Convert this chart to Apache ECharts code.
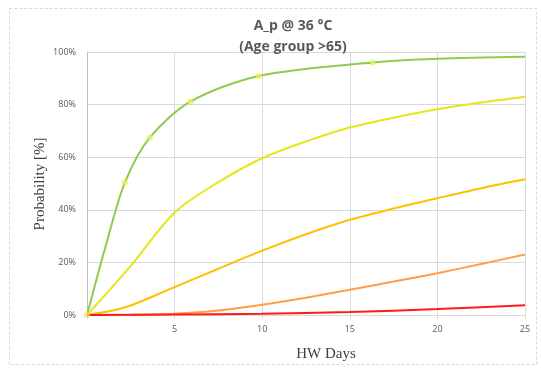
<!DOCTYPE html>
<html>
<head>
<meta charset="utf-8">
<script src="https://cdn.jsdelivr.net/npm/echarts@6/dist/echarts.min.js"></script>
<style>
  html, body { margin: 0; padding: 0; background: #ffffff; }
  #chart { width: 541px; height: 371px; }
</style>
</head>
<body>
<div id="chart"></div>
<script>
// values (x = HW days, y = probability %)
const xTicks = [0, 5, 10, 15, 20, 25];
const yTicks = [0, 20, 40, 60, 80, 100];

const greenCurve = [[0, 0], [1.1, 27], [2.17, 50.5], [3.58, 67.4], [5.9, 81.1], [9.81, 90.9], [16.3, 96.0], [20, 97.4], [25, 98.2]];
const greenMarkers = [[0, 0], [2.17, 50.5], [3.58, 67.4], [5.9, 81.1], [9.81, 90.9], [16.3, 96.0]];
const yellowCurve = [[0, 0], [2.5, 18.7], [5, 39], [7.5, 50.5], [10, 59.6], [12.5, 66], [15, 71.3], [17.5, 75], [20, 78.2], [22.5, 80.8], [25, 83]];
const orangeCurve = [[0, 0], [1.25, 1.4], [2.5, 3.6], [5, 10.6], [7.5, 17.6], [10, 24.5], [12.5, 30.7], [15, 36.2], [17.5, 40.5], [20, 44.4], [22.5, 48.2], [25, 51.6]];
const darkOrangeCurve = [[0, 0], [2.5, 0.1], [5, 0.5], [7.5, 1.7], [10, 3.9], [12.5, 6.6], [15, 9.6], [17.5, 12.7], [20, 15.9], [22.5, 19.4], [25, 23]];
const redCurve = [[0, 0], [5, 0.2], [10, 0.5], [15, 1.1], [20, 2.3], [25, 3.7]];

const labelGrey = '#595959';
const gridGrey = '#d9d9d9';

function curve(name, data, color) {
  return {
    name: name,
    type: 'line',
    data: data,
    smooth: 0.3,
    showSymbol: false,
    symbol: 'none',
    lineStyle: { color: color, width: 2 },
    itemStyle: { color: color },
    z: 2,
  };
}

const chart = echarts.init(document.getElementById('chart'), null, { renderer: 'canvas' });

const option = {
  animation: false,
  backgroundColor: '#ffffff',
  title: [
    {
      text: 'A_p @ 36 °C\n(Age group >65)',
      left: 288,
      top: 11,
      textAlign: 'center',
      textStyle: {
        color: labelGrey,
        fontFamily: 'Open Sans',
        fontWeight: 'bold',
        fontSize: 14,
        lineHeight: 21,
      },
    },
    {
      text: 'HW Days',
      left: 321,
      top: 342,
      textAlign: 'center',
      textStyle: {
        color: '#404040',
        fontFamily: 'Liberation Serif',
        fontWeight: 'normal',
        fontSize: 15,
      },
    },
  ],
  graphic: [
    {
      type: 'rect',
      shape: { x: 9.5, y: 8.5, width: 527, height: 356 },
      style: { fill: null, stroke: '#d9d9d9', lineWidth: 1, lineDash: [3, 2] },
      silent: true,
      z: -1,
    },
    {
      type: 'text',
      x: 40,
      y: 184,
      rotation: Math.PI / 2,
      style: {
        text: 'Probability [%]',
        fill: '#404040',
        font: '15px "Liberation Serif"',
        align: 'center',
        verticalAlign: 'middle',
      },
      silent: true,
    },
  ],
  grid: {
    left: 87,
    right: 16,
    top: 52,
    bottom: 56,
    containLabel: false,
  },
  xAxis: {
    type: 'value',
    min: xTicks[0],
    max: xTicks[xTicks.length - 1],
    interval: 5,
    axisLine: { show: true, lineStyle: { color: gridGrey, width: 1 } },
    axisTick: { show: true, length: 4, lineStyle: { color: gridGrey } },
    axisLabel: {
      color: labelGrey,
      fontFamily: 'Open Sans',
      fontSize: 9,
      margin: 10,
      formatter: (v) => (v === 0 ? '' : String(v)),
    },
    splitLine: { show: true, lineStyle: { color: gridGrey, width: 1 } },
  },
  yAxis: {
    type: 'value',
    min: yTicks[0],
    max: yTicks[yTicks.length - 1],
    interval: 20,
    axisLine: { show: true, lineStyle: { color: '#bfbfbf', width: 1 } },
    axisTick: { show: false },
    axisLabel: {
      color: labelGrey,
      fontFamily: 'Open Sans',
      fontSize: 9,
      margin: 11,
      formatter: '{value}%',
    },
    splitLine: { show: true, lineStyle: { color: gridGrey, width: 1 } },
  },
  series: [
    curve('green', greenCurve, '#8fcb4f'),
    curve('yellow', yellowCurve, '#e6e619'),
    curve('orange', orangeCurve, '#ffc000'),
    curve('darkOrange', darkOrangeCurve, '#ff9e45'),
    curve('red', redCurve, '#ff1a1a'),
    {
      name: 'markers',
      type: 'scatter',
      data: greenMarkers,
      symbol: 'circle',
      symbolSize: 5,
      itemStyle: {
        color: 'rgba(255,255,140,0.6)',
        borderColor: '#e6e619',
        borderWidth: 1,
      },
      z: 3,
    },
  ],
};

chart.setOption(option);
</script>
</body>
</html>
